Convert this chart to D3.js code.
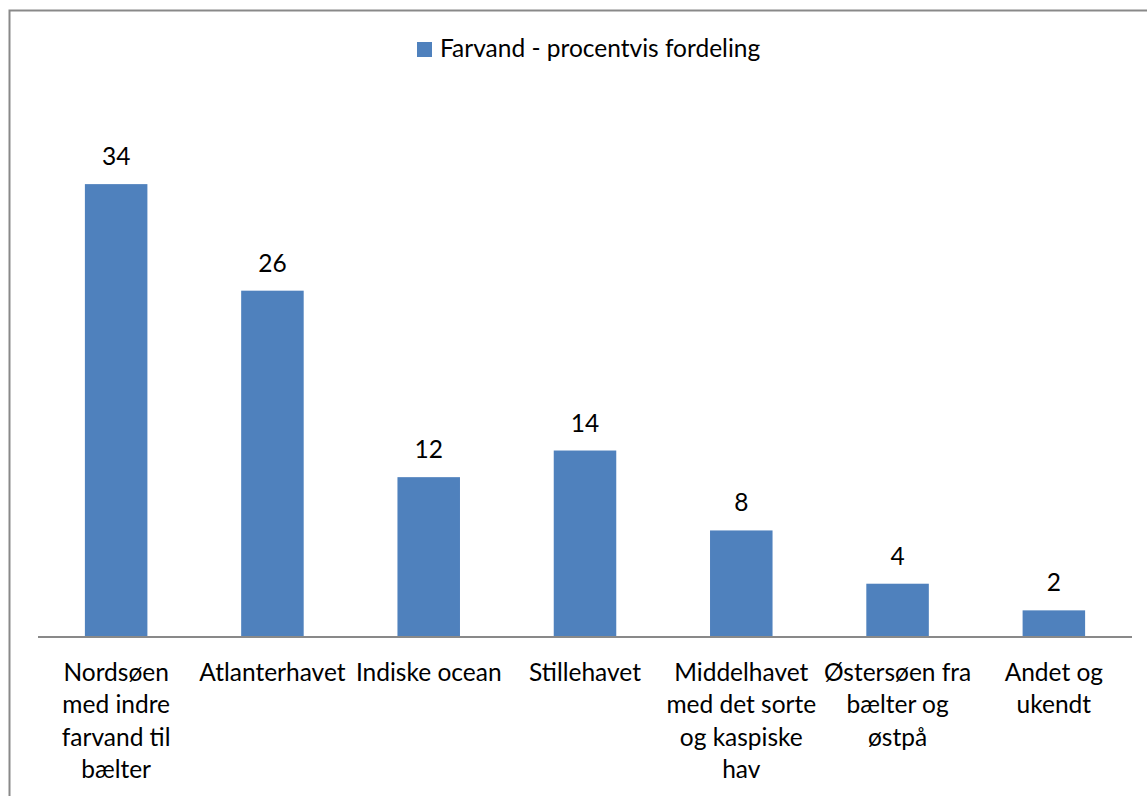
<!DOCTYPE html>
<html>
<head>
<meta charset="utf-8">
<script src="https://cdn.jsdelivr.net/npm/d3@7"></script>
<style>
  html, body { margin: 0; padding: 0; background: #fff; }
  svg { display: block; }
  text { font-family: "Lato", "Open Sans", sans-serif; fill: #000; }
</style>
</head>
<body>
<svg id="chart" width="1147" height="796"></svg>
<script>
// Distribution of waters (percent)
const categories = [
  "Nordsøen med indre farvand til bælter",
  "Atlanterhavet",
  "Indiske ocean",
  "Stillehavet",
  "Middelhavet med det sorte og kaspiske hav",
  "Østersøen fra bælter og østpå",
  "Andet og ukendt"
];
const values = [34, 26, 12, 14, 8, 4, 2];
const seriesName = "Farvand - procentvis fordeling";

const svg = d3.select("#chart");
const color = "#4f81bd";
const fontSize = 24.5;

// outer chart frame (runs past the right and bottom edges)
svg.append("rect")
  .attr("x", 9.5).attr("y", 10.5)
  .attr("width", 1160).attr("height", 800)
  .attr("fill", "#fff")
  .attr("stroke", "#898989").attr("stroke-width", 2);

const x = d3.scaleBand()
  .domain(categories)
  .range([38, 1132])
  .paddingInner(0.6)
  .paddingOuter(0.3);

const y = d3.scaleLinear()
  .domain([0, 40])
  .range([637, 104.2]);

// bars
svg.selectAll("rect.bar")
  .data(categories)
  .join("rect")
  .attr("class", "bar")
  .attr("x", d => x(d))
  .attr("width", x.bandwidth())
  .attr("y", (d, i) => y(values[i]))
  .attr("height", (d, i) => y(0) - y(values[i]))
  .attr("fill", color);

// value labels
svg.selectAll("text.val")
  .data(categories)
  .join("text")
  .attr("class", "val")
  .attr("x", d => x(d) + x.bandwidth() / 2)
  .attr("y", (d, i) => y(values[i]) - 19)
  .attr("text-anchor", "middle")
  .attr("font-size", fontSize)
  .text((d, i) => values[i]);

// category axis
const axis = d3.axisBottom(x).tickSize(0).tickPadding(0);
const gx = svg.append("g")
  .attr("transform", `translate(0,${y(0)})`)
  .call(axis);
gx.select(".domain").attr("stroke", "#898989").attr("stroke-width", 2)
  .attr("d", "M38,0H1132");

const maxLine = 155;
gx.selectAll(".tick text")
  .attr("font-size", fontSize)
  .attr("font-family", "Lato, 'Open Sans', sans-serif")
  .attr("fill", "#000")
  .attr("dy", null)
  .attr("y", null)
  .each(function(d) {
    const t = d3.select(this);
    const words = d.split(" ");
    t.text(null);
    const lines = [];
    let cur = [];
    const probe = t.append("tspan");
    words.forEach(w => {
      const trial = cur.concat(w).join(" ");
      probe.text(trial);
      if (cur.length && probe.node().getComputedTextLength() > maxLine) {
        lines.push(cur.join(" "));
        cur = [w];
      } else {
        cur.push(w);
      }
    });
    lines.push(cur.join(" "));
    probe.remove();
    lines.forEach((ln, i) => {
      t.append("tspan")
        .attr("x", 0)
        .attr("y", 44 + i * 32.4)
        .text(ln);
    });
  });

// legend
const lg = svg.append("g").attr("transform", "translate(417,42)");
lg.append("rect").attr("width", 15).attr("height", 15).attr("fill", color);
lg.append("text").attr("x", 23).attr("y", 15)
  .attr("font-size", fontSize)
  .text(seriesName);
</script>
</body>
</html>
